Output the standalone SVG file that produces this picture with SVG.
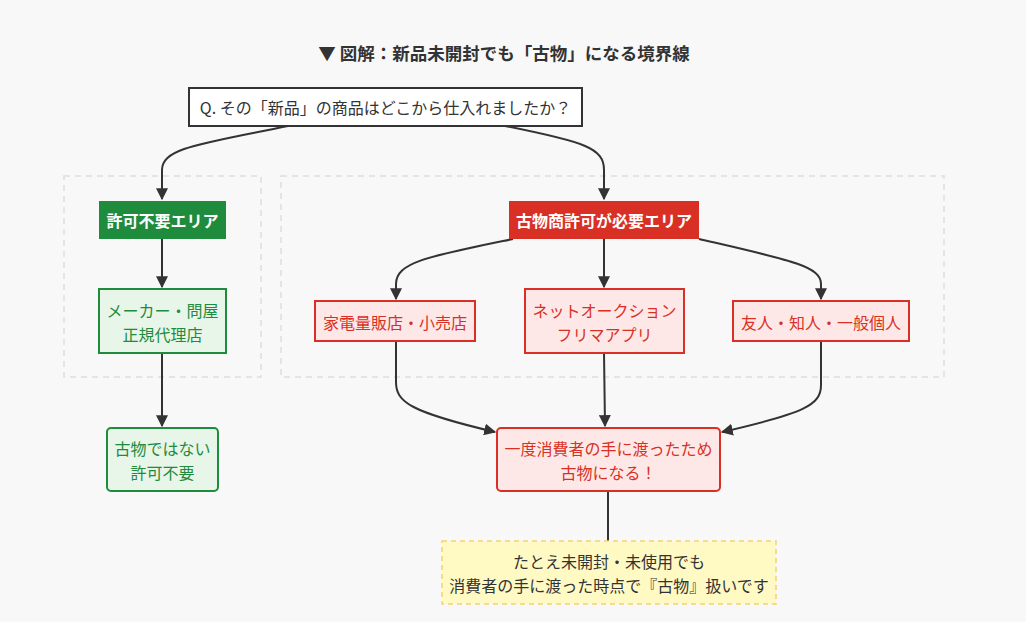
<svg xmlns="http://www.w3.org/2000/svg" width="1026" height="622" viewBox="0 0 1026 622">
<defs>
<marker id="arr" viewBox="0 0 10 10" refX="9" refY="5" markerWidth="12" markerHeight="12" markerUnits="userSpaceOnUse" orient="auto">
<path d="M0,0 L10,5 L0,10 z" fill="#333"/>
</marker>
<style>
text{font-family:"Noto Sans CJK JP","Noto Sans",sans-serif;text-anchor:middle;dominant-baseline:central;font-size:16px}
.cl{fill:none;stroke:#ddd;stroke-width:1.5;stroke-dasharray:6 5}
.edge{fill:none;stroke:#333;stroke-width:2}
.gsolid{fill:#1e8c3c}
.rsolid{fill:#d93025}
.wt{fill:#fff;font-weight:bold;font-size:16px}
.gl{fill:#e8f5e9;stroke:#1e8c3c;stroke-width:2}
.rl{fill:#fde8e7;stroke:#d93025;stroke-width:2}
.gt{fill:#1e8c3c}
.rt{fill:#d93025}
.dt{fill:#333}
</style>
</defs>
<rect width="1026" height="622" fill="#f8f8f8"/>
<text x="504" y="52" class="dt" style="font-size:17.5px;font-weight:bold">▼ 図解：新品未開封でも「古物」になる境界線</text>

<g id="clusters">
<rect class="cl" x="64" y="176" width="197" height="201"/>
<rect class="cl" x="281" y="176" width="663" height="201"/>
</g>

<g id="connectors">
<path class="edge" d="M288,126 C200,144 162,148 162,170 L162,199" marker-end="url(#arr)"/>
<path class="edge" d="M505,126 C585,142 604,148 604,170 L604,199" marker-end="url(#arr)"/>
<path class="edge" d="M162,239 L162,287" marker-end="url(#arr)"/>
<path class="edge" d="M513,239 C430,256 396,262 396,284 L396,299" marker-end="url(#arr)"/>
<path class="edge" d="M604,239 L604,287" marker-end="url(#arr)"/>
<path class="edge" d="M699,239 C790,260 821,266 821,284 L821,299" marker-end="url(#arr)"/>
<path class="edge" d="M162,353 L162,426" marker-end="url(#arr)"/>
<path class="edge" d="M396,341 L396,382 C396,402 410,412 495,432" marker-end="url(#arr)"/>
<path class="edge" d="M604,353 L605,426" marker-end="url(#arr)"/>
<path class="edge" d="M821,341 L821,385 C821,405 805,413 722,432" marker-end="url(#arr)"/>
<path class="edge" d="M608,491 L608,541"/>
</g>

<g id="q">
<rect x="189" y="88" width="393" height="38" fill="#fff" stroke="#333" stroke-width="2"/>
<text x="385.5" y="107" class="dt">Q. その「新品」の商品はどこから仕入れましたか？</text>
</g>

<g id="nopermit">
<rect class="gsolid" x="99" y="201" width="127" height="38"/>
<text class="wt" x="162.5" y="220">許可不要エリア</text>
</g>

<g id="maker">
<rect class="gl" x="99" y="289" width="127" height="64"/>
<text class="gt" x="162.5" y="310">メーカー・問屋</text>
<text class="gt" x="162.5" y="334">正規代理店</text>
</g>

<g id="notkobutsu">
<rect class="gl" x="107" y="428" width="111" height="63" rx="4"/>
<text class="gt" x="162.5" y="448">古物ではない</text>
<text class="gt" x="162.5" y="472">許可不要</text>
</g>

<g id="permit">
<rect class="rsolid" x="509" y="201" width="190" height="38"/>
<text class="wt" x="604" y="220">古物商許可が必要エリア</text>
</g>

<g id="retail">
<rect class="rl" x="315" y="301" width="160" height="40"/>
<text class="rt" x="395" y="322">家電量販店・小売店</text>
</g>

<g id="net">
<rect class="rl" x="525" y="289" width="159" height="64"/>
<text class="rt" x="604.5" y="310">ネットオークション</text>
<text class="rt" x="604.5" y="334">フリマアプリ</text>
</g>

<g id="friend">
<rect class="rl" x="733" y="301" width="176" height="40"/>
<text class="rt" x="821" y="322">友人・知人・一般個人</text>
</g>

<g id="becomes">
<rect class="rl" x="497" y="428" width="223" height="63" rx="4"/>
<text class="rt" x="608.5" y="448">一度消費者の手に渡ったため</text>
<text class="rt" x="608.5" y="472">古物になる！</text>
</g>

<g id="note">
<rect x="442" y="541" width="334" height="63" fill="#fff9c4" stroke="#f5d36b" stroke-width="1.5" stroke-dasharray="5 4"/>
<text class="dt" x="609" y="561">たとえ未開封・未使用でも</text>
<text class="dt" x="609" y="585">消費者の手に渡った時点で『古物』扱いです</text>
</g>
</svg>
